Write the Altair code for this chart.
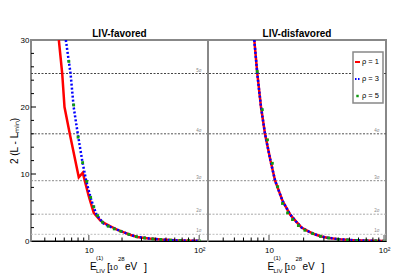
import altair as alt
import pandas as pd

# ---------------- data ----------------
# LIV-favored panel
fav_red_E = [5.36, 5.75, 6.03, 6.73, 8.12, 8.83, 9.2, 10.0, 11.1, 12.8, 14.1, 15.7, 18, 20, 24, 27.4, 35, 45, 60, 80, 100]
fav_red_L = [30, 25, 20, 16, 9.5, 10.2, 9.0, 6.7, 4.2, 3.0, 2.6, 2.2, 1.7, 1.4, 0.9, 0.6, 0.38, 0.22, 0.1, 0.05, 0.03]

fav_blue_E = [6.2, 6.84, 7.3, 7.95, 8.72, 9.47, 10.5, 11.7, 13.6, 15.7, 18, 20, 24, 27.4, 35, 45, 60, 80, 100]
fav_blue_L = [30, 25, 20, 16, 12, 9, 6.2, 4, 2.6, 2.1, 1.7, 1.4, 0.9, 0.6, 0.38, 0.22, 0.1, 0.05, 0.03]

fav_green_E = [6.6, 7.3, 8.0, 8.8, 9.6, 10.4, 11.1, 12.0, 13.3, 15, 17, 19.5, 23, 27, 32, 38, 45, 55, 67, 80, 100]
fav_green_L = [26.8, 20.3, 15.5, 11.7, 8.9, 6.5, 5.1, 3.8, 2.8, 2.2, 1.8, 1.45, 1.0, 0.65, 0.45, 0.3, 0.22, 0.13, 0.08, 0.05, 0.03]

# LIV-disfavored panel (all three hypotheses coincide)
dis_E = [7.45, 7.91, 8.52, 9.23, 10.3, 11.3, 13.1, 15.2, 17, 19.2, 22, 25, 28, 32, 40, 51, 65, 80, 100]
dis_L = [30, 25, 20, 16, 12, 9, 6, 4, 3.0, 2.0, 1.45, 1.0, 0.72, 0.5, 0.28, 0.15, 0.07, 0.03, 0.01]

dis_green_E = [7.9, 8.75, 9.7, 10.7, 11.9, 13.1, 14.5, 16, 18, 20.5, 24, 28, 33, 40, 48, 58, 70, 85, 100]
dis_green_L = [25.3, 19.6, 15.1, 11.6, 8.1, 5.6, 4.2, 3.2, 2.3, 1.6, 1.1, 0.7, 0.45, 0.25, 0.15, 0.08, 0.04, 0.02, 0.01]

sigma_levels = [1, 4, 9, 16, 25]
sigma_labels = ["1σ", "2σ", "3σ", "4σ", "5σ"]
sigma_colors = ["#bdbdbd", "#a8a8a8", "#8a8a8a", "#555555", "#444444"]

legend_labels = ["ρ = 1", "ρ = 3", "ρ = 5"]

x_minor = [4, 5, 6, 7, 8, 9, 20, 30, 40, 50, 60, 70, 80, 90]
x_major = [10, 100]
y_minor = [2, 4, 6, 8, 12, 14, 16, 18, 22, 24, 26, 28]
y_major = [10, 20]

# ---------------- style ----------------
RED = "#ff0000"
BLUE = "#0000ff"
GREEN = "#119a11"
FONT = "Liberation Sans"
H = 201
W_LEFT = 177
W_RIGHT = 178
one = pd.DataFrame({"a": [0]})


def panel(title, width, xdomain, red, blue, green, left, legend):
    yscale = alt.Scale(domain=[0, 30], nice=False, zero=False)
    xscale = alt.Scale(type="log", domain=xdomain, nice=False)
    xaxis = alt.Axis(values=x_major, labelExpr="datum.value == 10 ? '10' : '10²'",
                     ticks=False, grid=False, domainColor="#000000", domainWidth=1,
                     labelFontSize=8, labelFont=FONT, labelPadding=5, labelColor="#000",
                     labelFlush=False)
    if left:
        yaxis = alt.Axis(values=[0, 10, 20, 30], ticks=False, grid=False, domain=False,
                         labelFontSize=8, labelFont=FONT, labelPadding=2, labelColor="#000",
                         title="2 (L - Lₘᵢₙ)", titleFont=FONT, titleFontSize=10,
                         titleFontWeight="normal", titlePadding=1, titleColor="#000")
    else:
        yaxis = None

    def X(f):
        return alt.X(f, type="quantitative", scale=xscale, axis=xaxis, title=None)

    def Y(f):
        return alt.Y(f, type="quantitative", scale=yscale, axis=yaxis)

    sig = pd.DataFrame({"L": sigma_levels, "lab": sigma_labels, "col": sigma_colors})
    layers = []
    layers.append(alt.Chart(sig).mark_rule(strokeDash=[2, 1.5], strokeWidth=1).encode(
        y=Y("L"), color=alt.Color("col:N", scale=None)))
    layers.append(alt.Chart(sig).mark_text(fontSize=4.5, font=FONT, color="#888888", dy=-3,
                                           align="center").encode(
        x=alt.value(width - 9), y=Y("L"), text="lab:N"))

    rdf = pd.DataFrame({"E": red[0], "L": red[1]})
    layers.append(alt.Chart(rdf).mark_line(color=RED, strokeWidth=2.5, clip=True).encode(
        x=X("E"), y=Y("L")))
    bdf = pd.DataFrame({"E": blue[0], "L": blue[1]})
    layers.append(alt.Chart(bdf).mark_line(color=BLUE, strokeWidth=2.5, strokeDash=[2, 2],
                                           clip=True).encode(x=X("E"), y=Y("L")))
    gdf = pd.DataFrame({"E": green[0], "L": green[1]})
    layers.append(alt.Chart(gdf).mark_square(color=GREEN, size=8, opacity=1, clip=True).encode(
        x=X("E"), y=Y("L")))

    # inward ticks on x
    tminor = pd.DataFrame({"t": x_minor})
    layers.append(alt.Chart(tminor).mark_rule(color="#000", strokeWidth=1).encode(
        x=X("t"), y=alt.value(H - 3.5), y2=alt.value(H)))
    tmajor = pd.DataFrame({"t": x_major})
    layers.append(alt.Chart(tmajor).mark_rule(color="#888", strokeWidth=1.5).encode(
        x=X("t"), y=alt.value(H - 6), y2=alt.value(H)))
    if left:
        ymn = pd.DataFrame({"t": y_minor})
        layers.append(alt.Chart(ymn).mark_rule(color="#000", strokeWidth=1).encode(
            y=Y("t"), x=alt.value(0), x2=alt.value(3)))
        ymj = pd.DataFrame({"t": y_major})
        layers.append(alt.Chart(ymj).mark_rule(color="#000", strokeWidth=1).encode(
            y=Y("t"), x=alt.value(0), x2=alt.value(5)))

    c = width / 2
    # panel title
    layers.append(alt.Chart(one).mark_text(text=title, fontSize=10, font=FONT, fontWeight="bold",
                                           color="#000", align="center", baseline="alphabetic").encode(
        x=alt.value(c), y=alt.value(-3.5)))

    # x-axis title built from pieces
    pieces = [("E", -29.5, 230, 10), ("(1)", -23.5, 220, 6), ("LIV", -23.5, 232.5, 6),
              ("[", -12.5, 230.5, 11), ("10", -10.5, 230, 8), ("28", -1.5, 220.5, 6),
              ("eV", 5.5, 230, 10), ("]", 24.5, 230.5, 11)]
    for txt, dx, yy, fs in pieces:
        layers.append(alt.Chart(one).mark_text(text=txt, fontSize=fs, font=FONT, color="#000",
                                               align="left", baseline="alphabetic").encode(
            x=alt.value(c + dx), y=alt.value(yy)))

    if legend:
        layers.append(alt.Chart(one).mark_rect(fill="white", stroke="#888888", strokeWidth=1.5).encode(
            x=alt.value(145), x2=alt.value(175), y=alt.value(12), y2=alt.value(63)))
        layers.append(alt.Chart(one).mark_rule(color=RED, strokeWidth=2).encode(
            x=alt.value(147), x2=alt.value(152), y=alt.value(22)))
        layers.append(alt.Chart(one).mark_rule(color=BLUE, strokeWidth=2, strokeDash=[1.5, 1.5]).encode(
            x=alt.value(147), x2=alt.value(152), y=alt.value(39)))
        layers.append(alt.Chart(one).mark_square(color=GREEN, size=6, opacity=1).encode(
            x=alt.value(149.5), y=alt.value(56)))
        leg = pd.DataFrame({"lab": legend_labels, "yy": [22, 39, 56]})
        layers.append(alt.Chart(leg).mark_text(fontSize=7.5, font=FONT, color="#000", align="left",
                                               baseline="middle").encode(
            x=alt.value(154), y=alt.Y("yy:Q", scale=None), text="lab:N"))

    return alt.layer(*layers).properties(width=width, height=H)


left = panel("LIV-favored", W_LEFT, [3.0, 120], (fav_red_E, fav_red_L), (fav_blue_E, fav_blue_L),
             (fav_green_E, fav_green_L), True, False)
right = panel("LIV-disfavored", W_RIGHT, [2.95, 104], (dis_E, dis_L), (dis_E, dis_L),
              (dis_green_E, dis_green_L), False, True)

chart = alt.hconcat(left, right, spacing=0, bounds="flush").properties(
    padding={"left": 0, "top": 19, "right": 5, "bottom": 5},
    background="white"
).configure_view(stroke="#888888", strokeWidth=2)

chart.save("out.html", embed_options={"renderer": "svg", "actions": False})
